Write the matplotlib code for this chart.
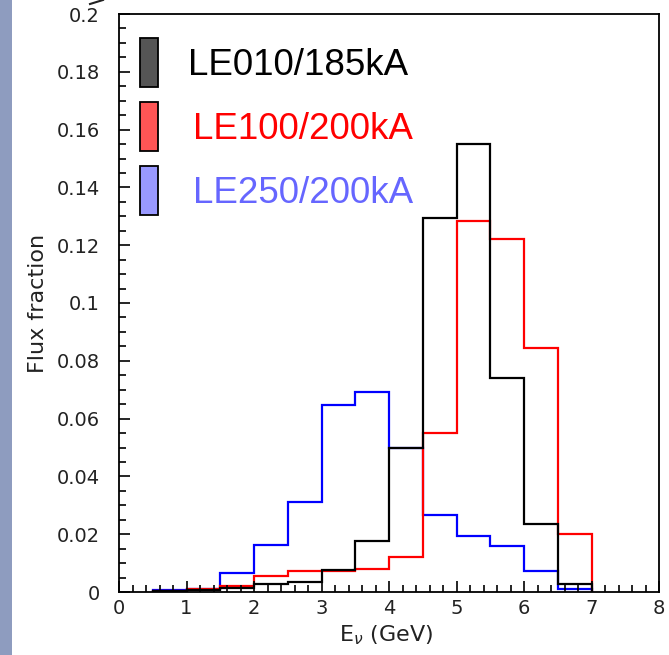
import matplotlib
matplotlib.use('Agg')
import matplotlib.pyplot as plt
from matplotlib.patches import Rectangle
from matplotlib.lines import Line2D
from matplotlib.ticker import MultipleLocator

# bin edges (GeV), shared by all three beam configurations
edges = [0.5, 1.0, 1.5, 2.0, 2.5, 3.0, 3.5, 4.0, 4.5, 5.0, 5.5, 6.0, 6.5, 7.0]

le010 = [0.0003, 0.0007, 0.0013, 0.0029, 0.0036, 0.0076, 0.0176,
         0.0497, 0.1295, 0.1550, 0.0740, 0.0235, 0.0028]
le100 = [0.0003, 0.0009, 0.0022, 0.0056, 0.0074, 0.0074, 0.0078,
         0.0120, 0.0549, 0.1284, 0.1220, 0.0843, 0.0202]
le250 = [0.0006, 0.0012, 0.0067, 0.0164, 0.0310, 0.0647, 0.0691,
         0.0497, 0.0266, 0.0194, 0.0159, 0.0074, 0.0010]

labels = ['LE010/185kA', 'LE100/200kA', 'LE250/200kA']
line_colors = ['black', '#ff0000', '#0000ff']
box_colors = ['#555555', '#ff5555', '#9999ff']
text_colors = ['black', '#ff0000', '#6666ff']

fig = plt.figure(figsize=(6.69, 6.55), dpi=100)
ax = fig.add_axes([119/669, 63/655, 540/669, 578/655])

# blue first, black on top
ax.stairs(le250, edges, baseline=0, color=line_colors[2], lw=1.6)
ax.stairs(le100, edges, baseline=0, color=line_colors[1], lw=1.6)
ax.stairs(le010, edges, baseline=0, color=line_colors[0], lw=1.6)

ax.set_xlim(0, 8)
ax.set_ylim(0, 0.2)
ax.xaxis.set_major_locator(MultipleLocator(1))
ax.xaxis.set_minor_locator(MultipleLocator(0.2))
ax.yaxis.set_major_locator(MultipleLocator(0.02))
ax.yaxis.set_minor_locator(MultipleLocator(0.005))
ax.yaxis.set_major_formatter(plt.FuncFormatter(lambda v, p: '0' if v == 0 else ('%g' % round(v, 3))))
ax.tick_params(which='both', direction='in', top=False, right=False,
               labelsize=14, labelcolor='#222222', width=1.2)
ax.tick_params(which='major', length=8)
ax.tick_params(which='minor', length=5)
ax.tick_params(axis='y', pad=14)
ax.tick_params(axis='x', pad=5)
for s in ax.spines.values():
    s.set_linewidth(1.3)

ax.set_ylabel('Flux fraction', fontsize=16, color='#222222')
ax.yaxis.set_label_coords(-0.132, 0.5)
ax.set_xlabel(r'E$_{\nu}$ (GeV)', fontsize=16, color='#222222')
ax.xaxis.set_label_coords(0.494, -0.055)

# hand-made legend: filled boxes with coloured text
for i in range(3):
    y0 = 0.874 - i * 0.111
    ax.add_patch(Rectangle((0.038, y0), 0.035, 0.085, transform=ax.transAxes,
                           facecolor=box_colors[i], edgecolor='black', lw=1.3,
                           clip_on=False))
    ax.text(0.128 if i == 0 else 0.137, y0 + 0.037, labels[i],
            transform=ax.transAxes, fontsize=26.5, color=text_colors[i],
            family='Liberation Sans', va='center', ha='left')

# slide-side strip and the stray mark above the frame
fig.patches.append(Rectangle((0, 0), 12/669, 1, transform=fig.transFigure,
                             facecolor='#8e9cbf', edgecolor='none'))
fig.add_artist(Line2D([90/669, 103/669], [651/655, 655/655], color='#222222', lw=1.5))

fig.savefig('out.png', dpi=100)
